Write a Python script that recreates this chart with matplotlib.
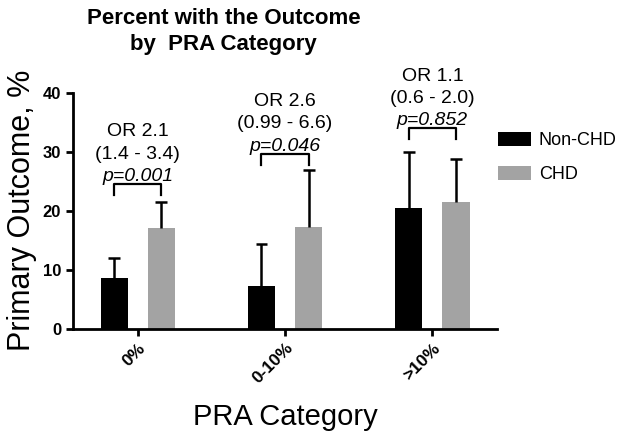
import numpy as np
import matplotlib.pyplot as plt

plt.rcParams['font.family'] = ['Liberation Sans', 'DejaVu Sans']

categories = ['0%', '0-10%', '>10%']
non_chd = [8.6, 7.3, 20.5]
non_chd_err = [3.4, 7.1, 9.5]
chd = [17.0, 17.2, 21.5]
chd_err = [4.5, 9.7, 7.2]
or_text = ['OR 2.1', 'OR 2.6', 'OR 1.1']
ci_text = ['(1.4 - 3.4)', '(0.99 - 6.6)', '(0.6 - 2.0)']
p_text = ['p=0.001', 'p=0.046', 'p=0.852']
bracket_y = [24.5, 29.7, 34.0]

fig = plt.figure(figsize=(6.17, 4.34), dpi=100)
ax = fig.add_axes([0.118, 0.243, 0.688, 0.543])

x = np.arange(len(categories))
w = 0.184
off = 0.16
cap = 0.04
ax.bar(x - off, non_chd, w, color='black', label='Non-CHD')
ax.bar(x + off, chd, w, color='#a3a3a3', label='CHD')
for xs, vals, errs in [(x - off, non_chd, non_chd_err), (x + off, chd, chd_err)]:
    tops = np.array(vals) + np.array(errs)
    ax.vlines(xs, vals, tops, color='black', lw=1.8)
    ax.hlines(tops, xs - cap, xs + cap, color='black', lw=1.8)

for i in range(3):
    by = bracket_y[i]
    ax.plot([x[i] - off, x[i] - off, x[i] + off, x[i] + off],
            [by - 1.9, by, by, by - 1.9], color='black', lw=1.6, clip_on=False)
    ax.text(x[i], by + 0.5, p_text[i], ha='center', va='baseline', fontsize=14,
            style='italic', clip_on=False)
    ax.text(x[i], by + 4.3, ci_text[i], ha='center', va='baseline', fontsize=14,
            clip_on=False)
    ax.text(x[i], by + 8.1, or_text[i], ha='center', va='baseline', fontsize=14,
            clip_on=False)

ax.set_xlim(-0.44, 2.44)
ax.set_ylim(0, 40)
ax.set_yticks([0, 10, 20, 30, 40])
ax.set_xticks(x)
ax.set_xticklabels(categories, rotation=45, ha='right', rotation_mode='anchor',
                   fontweight='bold', fontsize=12.5)
for lab in ax.get_yticklabels():
    lab.set_fontweight('bold')
    lab.set_fontsize(12)
ax.spines['top'].set_visible(False)
ax.spines['right'].set_visible(False)
ax.spines['left'].set_linewidth(2)
ax.spines['bottom'].set_linewidth(2)
ax.tick_params(width=2, length=5)

ax.set_ylabel('Primary Outcome, %', fontsize=22, labelpad=4)
ax.set_xlabel('PRA Category', fontsize=21, labelpad=12)
fig.text(0.362, 0.982, 'Percent with the Outcome\nby  PRA Category', ha='center',
         va='top', fontsize=16, fontweight='bold', linespacing=1.3)

ax.legend(loc='upper left', bbox_to_anchor=(0.985, 0.865), frameon=False,
          fontsize=13, handlelength=1.8, handleheight=0.8, labelspacing=0.95,
          handletextpad=0.45, borderaxespad=0)

fig.savefig('out.png', dpi=100)
